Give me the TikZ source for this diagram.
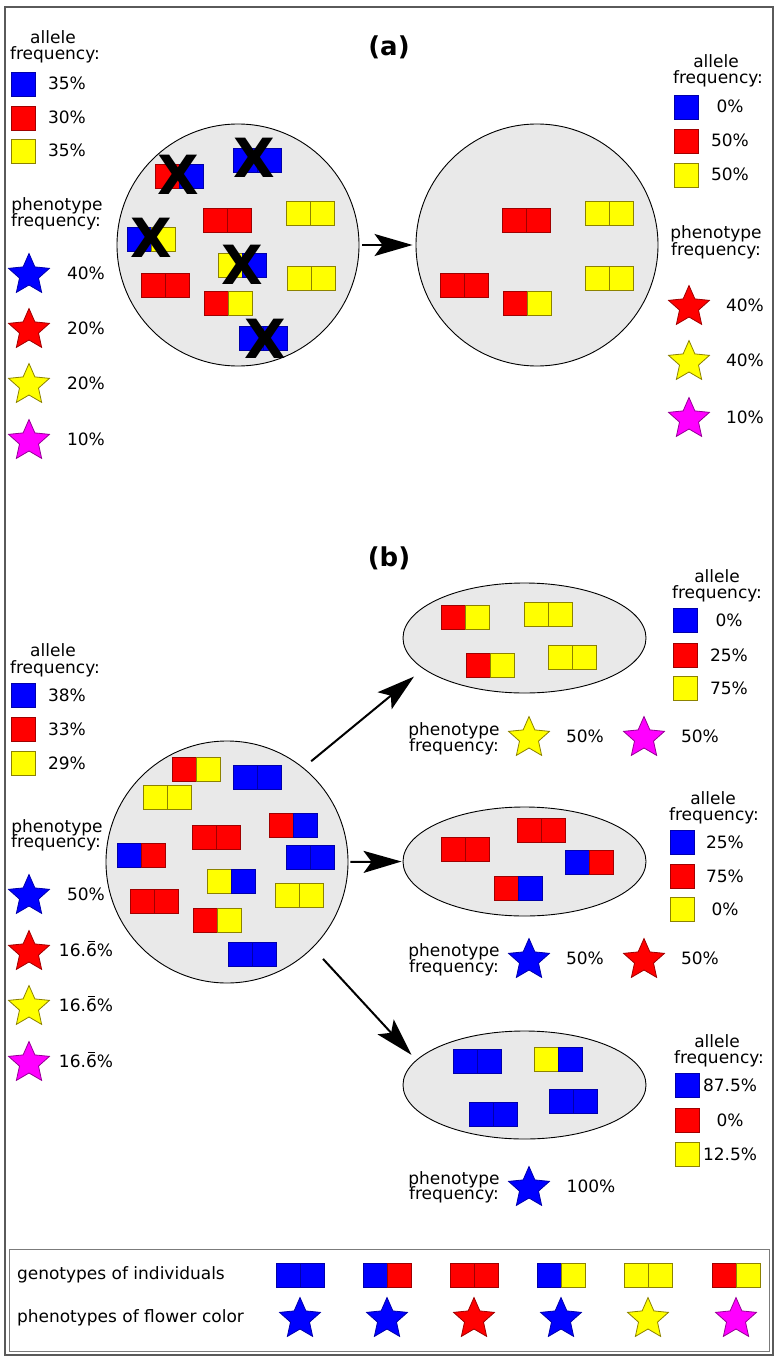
\documentclass[tikz,border=0pt]{standalone}
\usepackage{fontspec}
\setmainfont{DejaVu Sans}
\usetikzlibrary{arrows.meta,shapes.geometric}
\definecolor{B}{RGB}{0,0,255}
\definecolor{BD}{RGB}{0,0,170}
\definecolor{R}{RGB}{255,0,0}
\definecolor{RD}{RGB}{160,0,0}
\definecolor{Y}{RGB}{255,255,0}
\definecolor{YD}{RGB}{140,130,0}
\definecolor{M}{RGB}{255,0,255}
\definecolor{MD}{RGB}{150,0,150}
\definecolor{popgray}{RGB}{233,233,233}
\definecolor{framegray}{RGB}{90,90,90}
\tikzset{
  txt/.style={font=\fontsize{17}{17}\selectfont, inner sep=0pt, outer sep=0pt},
  pop/.style={draw=black, line width=0.9pt, fill=popgray, inner sep=0pt},
  arr/.style={line width=2pt, -{Stealth[length=38pt,width=22pt,inset=8pt]}},
  xmark/.style={font=\fontsize{54}{54}\selectfont\bfseries, inner sep=0pt},
  ttl/.style={font=\fontsize{26}{26}\selectfont\bfseries, inner sep=0pt},
  sqstyle/.style={line width=0.8pt},
}
\newcommand{\sqb}[3]{\draw[sqstyle, fill=#3, draw=#3D] (#1,#2) rectangle ++(24,24);}
\newcommand{\geno}[4]{\sqb{#1}{#2}{#3}\sqb{#1+24}{#2}{#4}}
\newcommand{\flower}[3]{\draw[line width=0.8pt, fill=#3, draw=#3D, shift={(#1,#2+2)}]
  (-90:21.5) -- (-54:10) -- (-18:21.5) -- (18:10) -- (54:21.5) -- (90:10) -- (126:21.5) -- (162:10) -- (198:21.5) -- (234:10) -- cycle;}
\newcommand{\ovsix}{\leavevmode\setbox0\hbox{6}\rlap{\kern0.18\wd0\raisebox{14.2pt}{\rule{0.64\wd0}{1pt}}}\box0}
\begin{document}
\begin{tikzpicture}[x=1pt,y=-1pt]
\useasboundingbox (0,0) rectangle (781,1364);
\fill[white] (0,0) rectangle (781,1364);
% frames
\draw[framegray, line width=1.5pt] (5,7) rectangle (773,1355);
\draw[framegray!80, line width=1pt] (9,1249) rectangle (769,1351);

% ===== (a) =====
\node[ttl] (ta) at (389,47) {(a)};
\node[pop, circle, minimum size=242pt] (A0) at (238,245) {};
\node[pop, circle, minimum size=242pt] (A1) at (537,245) {};
\draw[arr, shorten <=3pt, shorten >=3pt] (A0) -- (A1);

\geno{155}{164}{R}{B}
\geno{233}{148}{B}{B}
\geno{203}{208}{R}{R}
\geno{286}{201}{Y}{Y}
\geno{127}{227}{B}{Y}
\geno{218}{253}{Y}{B}
\geno{141}{273}{R}{R}
\geno{287}{266}{Y}{Y}
\geno{204}{291}{R}{Y}
\geno{239}{326}{B}{B}
\node[xmark] (x1) at (178,175) {X};
\node[xmark] (x2) at (254,158) {X};
\node[xmark] (x3) at (151,238) {X};
\node[xmark] (x4) at (242,265) {X};
\node[xmark] (x5) at (265,339) {X};

\geno{502}{208}{R}{R}
\geno{585}{201}{Y}{Y}
\geno{440}{273}{R}{R}
\geno{503}{291}{R}{Y}
\geno{585}{266}{Y}{Y}

% left legend (a)
\node[txt, anchor=base] (al1) at (53,44) {allele};
\node[txt, anchor=base] (al2) at (55,60) {frequency:};
\sqb{11}{72}{B} \node[txt, anchor=base] (al3) at (67,90) {35\%};
\sqb{11}{106}{R} \node[txt, anchor=base] (al4) at (67,124) {30\%};
\sqb{11}{139}{Y} \node[txt, anchor=base] (al5) at (67,157) {35\%};
\node[txt, anchor=base] (ap1) at (57,211) {phenotype};
\node[txt, anchor=base] (ap2) at (56,227) {frequency:};
\flower{29}{273}{B} \node[txt, anchor=base] (ap3) at (86,279) {40\%};
\flower{29}{328}{R} \node[txt, anchor=base] (ap4) at (86,334) {20\%};
\flower{29}{383}{Y} \node[txt, anchor=base] (ap5) at (86,389) {20\%};
\flower{29}{439}{M} \node[txt, anchor=base] (ap6) at (86,445) {10\%};

% right legend (a)
\node[txt, anchor=base] (ar1) at (716,68) {allele};
\node[txt, anchor=base] (ar2) at (718,84) {frequency:};
\sqb{674}{95}{B} \node[txt, anchor=base] (ar3) at (730,113) {0\%};
\sqb{674}{129}{R} \node[txt, anchor=base] (ar4) at (730,147) {50\%};
\sqb{674}{163}{Y} \node[txt, anchor=base] (ar5) at (730,181) {50\%};
\node[txt, anchor=base] (aq1) at (716,239) {phenotype};
\node[txt, anchor=base] (aq2) at (716,255) {frequency:};
\flower{689}{305}{R} \node[txt, anchor=base] (aq3) at (745,311) {40\%};
\flower{689}{360}{Y} \node[txt, anchor=base] (aq4) at (745,366) {40\%};
\flower{689}{417}{M} \node[txt, anchor=base] (aq5) at (745,423) {10\%};

% ===== (b) =====
\node[ttl] (tb) at (389,558) {(b)};
\node[pop, circle, minimum size=242pt] (B0) at (227,862) {};
\node[pop, ellipse, minimum width=243pt, minimum height=110pt] (B1) at (524.5,638) {};
\node[pop, ellipse, minimum width=243pt, minimum height=109pt] (B2) at (524.5,861.5) {};
\node[pop, ellipse, minimum width=243pt, minimum height=108pt] (B3) at (524.5,1085) {};
\draw[arr, shorten <=10pt, shorten >=12pt] (B0.51) -- (B1.197);
\draw[arr, shorten <=2pt, shorten >=1pt] (B0.east) -- (B2.west);
\draw[arr, shorten <=15pt, shorten >=7pt] (B0.-45) -- (B3.167);

\geno{172}{757}{R}{Y}
\geno{233}{765}{B}{B}
\geno{143}{785}{Y}{Y}
\geno{269}{813}{R}{B}
\geno{192}{825}{R}{R}
\geno{117}{843}{B}{R}
\geno{286}{845}{B}{B}
\geno{207}{869}{Y}{B}
\geno{275}{883}{Y}{Y}
\geno{130}{889}{R}{R}
\geno{193}{908}{R}{Y}
\geno{228}{942}{B}{B}

\geno{441}{605}{R}{Y}
\geno{524}{602}{Y}{Y}
\geno{466}{653}{R}{Y}
\geno{548}{645}{Y}{Y}

\geno{441}{837}{R}{R}
\geno{517}{818}{R}{R}
\geno{565}{850}{B}{R}
\geno{494}{876}{R}{B}

\geno{453}{1049}{B}{B}
\geno{534}{1047}{Y}{B}
\geno{469}{1102}{B}{B}
\geno{549}{1089}{B}{B}

% left legend (b)
\node[txt, anchor=base] (bl1) at (53,656) {allele};
\node[txt, anchor=base] (bl2) at (55,673) {frequency:};
\sqb{11}{683}{B} \node[txt, anchor=base] (bl3) at (67,701) {38\%};
\sqb{11}{717}{R} \node[txt, anchor=base] (bl4) at (67,735) {33\%};
\sqb{11}{751}{Y} \node[txt, anchor=base] (bl5) at (67,769) {29\%};
\node[txt, anchor=base] (bp1) at (57,832) {phenotype};
\node[txt, anchor=base] (bp2) at (56,847) {frequency:};
\flower{29}{894}{B} \node[txt, anchor=base] (bp3) at (86,900) {50\%};
\flower{29}{950}{R} \node[txt, anchor=base] (bp4) at (86,956) {16.\ovsix\%};
\flower{29}{1005}{Y} \node[txt, anchor=base] (bp5) at (86,1011) {16.\ovsix\%};
\flower{29}{1061}{M} \node[txt, anchor=base] (bp6) at (86,1067) {16.\ovsix\%};

% upper right legend (b)
\node[txt, anchor=base] (u1) at (717,582) {allele};
\node[txt, anchor=base] (u2) at (717,598) {frequency:};
\sqb{673}{608}{B} \node[txt, anchor=base] (u3) at (729,626) {0\%};
\sqb{673}{643}{R} \node[txt, anchor=base] (u4) at (729,661) {25\%};
\sqb{673}{676}{Y} \node[txt, anchor=base] (u5) at (729,694) {75\%};
\node[txt, anchor=base] (up1) at (454,735) {phenotype};
\node[txt, anchor=base] (up2) at (454,751) {frequency:};
\flower{529}{736}{Y} \node[txt, anchor=base] (up3) at (585,742) {50\%};
\flower{644}{736}{M} \node[txt, anchor=base] (up4) at (700,742) {50\%};

% middle right legend (b)
\node[txt, anchor=base] (m1) at (713,804) {allele};
\node[txt, anchor=base] (m2) at (714,820) {frequency:};
\sqb{670}{830}{B} \node[txt, anchor=base] (m3) at (725,848) {25\%};
\sqb{670}{864}{R} \node[txt, anchor=base] (m4) at (725,882) {75\%};
\sqb{670}{897}{Y} \node[txt, anchor=base] (m5) at (725,915) {0\%};
\node[txt, anchor=base] (mp1) at (454,956) {phenotype};
\node[txt, anchor=base] (mp2) at (454,972) {frequency:};
\flower{529}{958}{B} \node[txt, anchor=base] (mp3) at (585,964) {50\%};
\flower{644}{958}{R} \node[txt, anchor=base] (mp4) at (700,964) {50\%};

% lower right legend (b)
\node[txt, anchor=base] (l1) at (717,1047) {allele};
\node[txt, anchor=base] (l2) at (719,1063) {frequency:};
\sqb{675}{1073}{B} \node[txt, anchor=base] (l3) at (730,1091) {87.5\%};
\sqb{675}{1108}{R} \node[txt, anchor=base] (l4) at (730,1126) {0\%};
\sqb{675}{1142}{Y} \node[txt, anchor=base] (l5) at (730,1160) {12.5\%};
\node[txt, anchor=base] (lp1) at (454,1184) {phenotype};
\node[txt, anchor=base] (lp2) at (454,1199) {frequency:};
\flower{529}{1186}{B} \node[txt, anchor=base] (lp3) at (591,1192) {100\%};

% bottom legend
\node[txt, anchor=base west] (g1) at (17,1279) {genotypes of individuals};
\node[txt, anchor=base west] (g2) at (17,1322) {phenotypes of flower color};
\geno{276}{1263}{B}{B} \flower{300}{1317}{B}
\geno{363}{1263}{B}{R} \flower{387}{1317}{B}
\geno{450}{1263}{R}{R} \flower{474}{1317}{R}
\geno{537}{1263}{B}{Y} \flower{561}{1317}{B}
\geno{624}{1263}{Y}{Y} \flower{648}{1317}{Y}
\geno{712}{1263}{R}{Y} \flower{736}{1317}{M}
\end{tikzpicture}
\end{document}
